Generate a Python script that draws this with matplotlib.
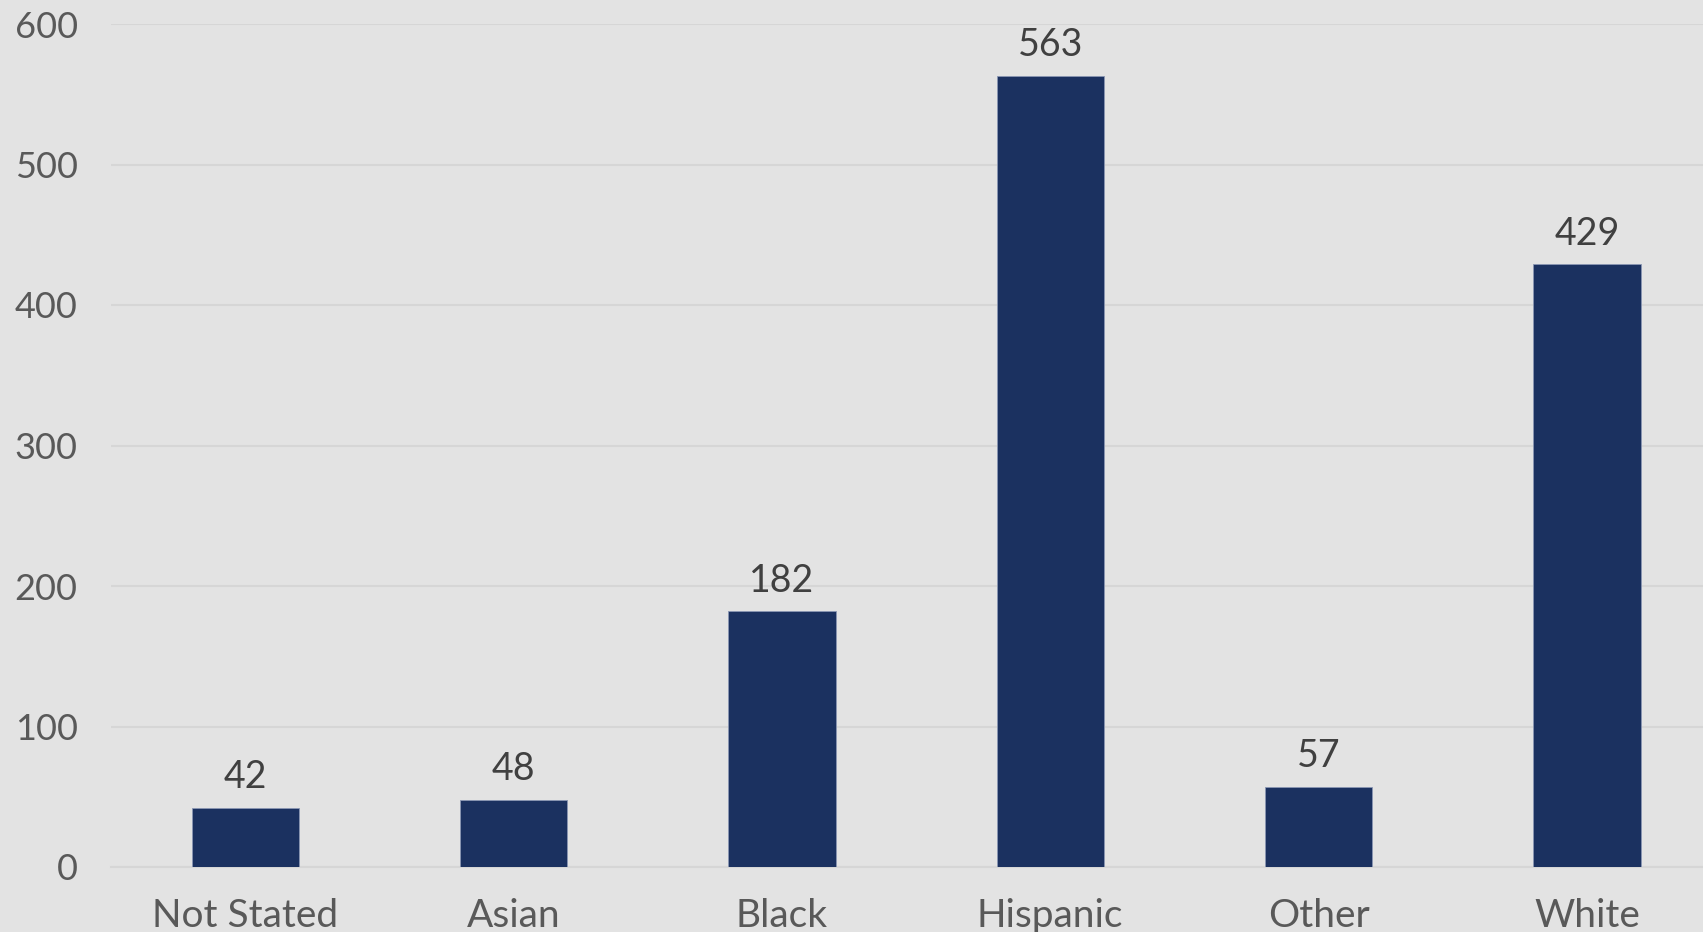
import matplotlib.pyplot as plt

CATEGORIES = ["Not Stated", "Asian", "Black", "Hispanic", "Other", "White"]
COUNTS = [42, 48, 182, 563, 57, 429]
Y_TICKS = [0, 100, 200, 300, 400, 500, 600]

BG = "#e3e3e3"
BAR = "#1b3160"
GRID = "#d6d6d6"

plt.rcParams["font.family"] = ["Lato", "DejaVu Sans"]

fig = plt.figure(figsize=(17.03, 9.32), dpi=100, facecolor=BG)
ax = fig.add_axes([111 / 1703, 65 / 932, 1610 / 1703, 843 / 932], facecolor=BG)

positions = range(len(CATEGORIES))
bars = ax.bar(positions, COUNTS, width=0.40, color=BAR, edgecolor="#8a97b3", linewidth=0.6, zorder=3)

for bar, value in zip(bars, COUNTS):
    ax.annotate(
        f"{value}",
        (bar.get_x() + bar.get_width() / 2, value),
        xytext=(0, 9),
        textcoords="offset points",
        ha="center",
        va="bottom",
        fontsize=27,
        color="#404040",
    )

ax.set_xlim(-0.5, len(CATEGORIES) - 0.5)
ax.set_ylim(0, 600)
ax.set_yticks(Y_TICKS)
ax.set_xticks(list(positions))
ax.set_xticklabels(CATEGORIES)
ax.tick_params(axis="y", length=0, pad=24, labelsize=26, labelcolor="#595959")
ax.tick_params(axis="x", length=0, pad=22, labelsize=28, labelcolor="#595959")
ax.grid(axis="y", color=GRID, linewidth=1.5, zorder=0)
ax.grid(axis="x", visible=False)
for side in ["top", "right", "left"]:
    ax.spines[side].set_visible(False)
ax.spines["bottom"].set_color(GRID)
ax.spines["bottom"].set_linewidth(1.5)

fig.savefig("out.png", dpi=100, facecolor=BG)
